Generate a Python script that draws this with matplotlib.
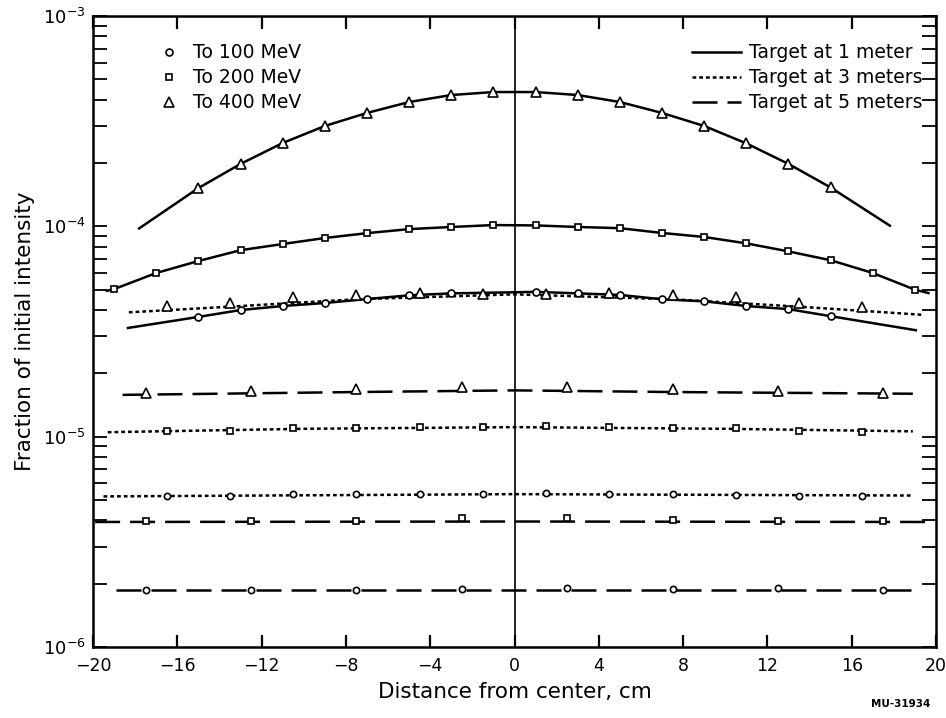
import matplotlib
matplotlib.use("Agg")
import matplotlib.pyplot as plt
from matplotlib.lines import Line2D
from matplotlib.ticker import FixedLocator, LogLocator, NullFormatter

# marker positions
x_1m_400 = [-15, -13, -11, -9, -7, -5, -3, -1, 1, 3, 5, 7, 9, 11, 13, 15]
y_1m_400 = [1.52e-4, 1.98e-4, 2.49e-4, 3.0e-4, 3.46e-4, 3.9e-4, 4.21e-4, 4.35e-4,
            4.35e-4, 4.21e-4, 3.9e-4, 3.46e-4, 3.0e-4, 2.48e-4, 1.98e-4, 1.53e-4]

x_1m_200 = [-19, -17, -15, -13, -11, -9, -7, -5, -3, -1, 1, 3, 5, 7, 9, 11, 13, 15, 17, 19]
y_1m_200 = [5.03e-5, 6.0e-5, 6.84e-5, 7.7e-5, 8.24e-5, 8.8e-5, 9.28e-5, 9.7e-5, 9.93e-5, 1.014e-4,
            1.01e-4, 9.93e-5, 9.8e-5, 9.3e-5, 8.9e-5, 8.3e-5, 7.6e-5, 6.9e-5, 6.0e-5, 5.0e-5]

x_1m_100 = [-15, -13, -11, -9, -7, -5, -3, 1, 3, 5, 7, 9, 11, 13, 15]
y_1m_100 = [3.71e-5, 4.0e-5, 4.18e-5, 4.32e-5, 4.51e-5, 4.7e-5, 4.8e-5, 4.88e-5,
            4.8e-5, 4.72e-5, 4.5e-5, 4.4e-5, 4.18e-5, 4.04e-5, 3.74e-5]

x_3m = [-16.5, -13.5, -10.5, -7.5, -4.5, -1.5, 1.5, 4.5, 7.5, 10.5, 13.5, 16.5]
y_3m_400 = [4.18e-5, 4.3e-5, 4.6e-5, 4.7e-5, 4.8e-5, 4.77e-5, 4.77e-5, 4.8e-5, 4.7e-5, 4.6e-5, 4.3e-5, 4.14e-5]
y_3m_200 = [1.06e-5, 1.06e-5, 1.1e-5, 1.1e-5, 1.11e-5, 1.11e-5, 1.12e-5, 1.11e-5, 1.1e-5, 1.1e-5, 1.06e-5, 1.05e-5]
y_3m_100 = [5.2e-6, 5.25e-6, 5.33e-6, 5.33e-6, 5.33e-6, 5.33e-6, 5.37e-6, 5.33e-6, 5.33e-6, 5.3e-6, 5.25e-6, 5.2e-6]

x_5m = [-17.5, -12.5, -7.5, -2.5, 2.5, 7.5, 12.5, 17.5]
y_5m_400 = [1.61e-5, 1.65e-5, 1.68e-5, 1.72e-5, 1.73e-5, 1.68e-5, 1.65e-5, 1.61e-5]
y_5m_200 = [3.96e-6, 3.96e-6, 3.98e-6, 4.1e-6, 4.1e-6, 4.0e-6, 3.96e-6, 3.96e-6]
y_5m_100 = [1.86e-6, 1.87e-6, 1.87e-6, 1.88e-6, 1.9e-6, 1.88e-6, 1.9e-6, 1.86e-6]

# curve ends for the 1 m lines (they pass through the markers)
ends_1m_400 = ([-17.86, 17.86], [9.7e-5, 1.0e-4])
ends_1m_200 = ([-19.4, 19.7], [4.92e-5, 4.8e-5])
ends_1m_100 = ([-18.4, 19.1], [3.28e-5, 3.2e-5])

# 3 m and 5 m lines
lx_3m_400 = [-18.3, -13.5, -7.5, 0, 7.5, 13.5, 19.3]
ly_3m_400 = [3.9e-5, 4.15e-5, 4.5e-5, 4.75e-5, 4.5e-5, 4.15e-5, 3.8e-5]
lx_3m_200 = [-19.3, -10, 0, 10, 18.9]
ly_3m_200 = [1.05e-5, 1.09e-5, 1.11e-5, 1.09e-5, 1.06e-5]
lx_3m_100 = [-19.5, 0, 18.9]
ly_3m_100 = [5.2e-6, 5.33e-6, 5.25e-6]
lx_5m_400 = [-18.6, -7.5, 0, 7.5, 18.9]
ly_5m_400 = [1.58e-5, 1.63e-5, 1.66e-5, 1.63e-5, 1.6e-5]
lx_5m_200 = [-19.9, 0, 19.5]
ly_5m_200 = [3.93e-6, 3.95e-6, 3.93e-6]
lx_5m_100 = [-18.9, 18.9]
ly_5m_100 = [1.87e-6, 1.87e-6]

x_ticks = [-20, -16, -12, -8, -4, 0, 4, 8, 12, 16, 20]
x_ticklabels = ["\u221220", "\u221216", "\u221212", "\u22128", "\u22124", "0", "4", "8", "12", "16", "20"]

plt.rcParams['font.family'] = ['DejaVu Sans']

LW = 1.8
DOT = (1.5, 1.2)
DASH = (10, 4)


def with_ends(xs, ys, ends):
    return [ends[0][0]] + xs + [ends[0][1]], [ends[1][0]] + ys + [ends[1][1]]


def markers(ax, x, y, m, ms):
    ax.plot(x, y, linestyle='none', marker=m, ms=ms, mfc='white', mec='black', mew=1.2, zorder=4)


fig = plt.figure(figsize=(9.46, 7.18), dpi=100)
ax = fig.add_axes([93 / 946, 71 / 718, 843 / 946, 631 / 718])
ax.set_yscale('log')
ax.set_xlim(-20, 20)
ax.set_ylim(1e-6, 1e-3)

# center line
ax.axvline(0, color='black', lw=1.2, zorder=1)

# 1 meter (solid)
for xs, ys, ends in [(x_1m_400, y_1m_400, ends_1m_400),
                     (x_1m_200, y_1m_200, ends_1m_200),
                     (x_1m_100, y_1m_100, ends_1m_100)]:
    lx, ly = with_ends(xs, ys, ends)
    ax.plot(lx, ly, color='black', lw=LW, solid_capstyle='butt', zorder=2)

# 3 meters (dotted)
for lx, ly in [(lx_3m_400, ly_3m_400), (lx_3m_200, ly_3m_200), (lx_3m_100, ly_3m_100)]:
    ax.plot(lx, ly, color='black', lw=LW, dashes=DOT, zorder=2)

# 5 meters (long dash)
for lx, ly in [(lx_5m_400, ly_5m_400), (lx_5m_200, ly_5m_200), (lx_5m_100, ly_5m_100)]:
    ax.plot(lx, ly, color='black', lw=LW, dashes=DASH, zorder=2)

markers(ax, x_1m_400, y_1m_400, '^', 7.5)
markers(ax, x_1m_200, y_1m_200, 's', 5)
markers(ax, x_1m_100, y_1m_100, 'o', 5)
markers(ax, x_3m, y_3m_400, '^', 7.5)
markers(ax, x_3m, y_3m_200, 's', 5)
markers(ax, x_3m, y_3m_100, 'o', 4.5)
markers(ax, x_5m, y_5m_400, '^', 7.5)
markers(ax, x_5m, y_5m_200, 's', 5)
markers(ax, x_5m, y_5m_100, 'o', 4.5)

# axes styling
for sp in ax.spines.values():
    sp.set_linewidth(1.8)
ax.xaxis.set_major_locator(FixedLocator(x_ticks))
ax.set_xticklabels(x_ticklabels)
ax.yaxis.set_major_locator(LogLocator(base=10, numticks=10))
ax.yaxis.set_minor_locator(LogLocator(base=10, subs=range(2, 10), numticks=20))
ax.yaxis.set_minor_formatter(NullFormatter())
ax.tick_params(axis='x', which='major', direction='in', length=9, width=1.6,
               top=True, labelsize=12.5, pad=7)
ax.tick_params(axis='y', which='both', direction='in', length=10, width=1.3,
               right=True, labelsize=13, pad=5)

ax.set_xlabel("Distance from center, cm", fontsize=15.5, labelpad=5)
ax.set_ylabel("Fraction of initial intensity", fontsize=15.5, labelpad=6)

# legends
energy_handles = [
    Line2D([], [], linestyle='none', marker='o', ms=5, mfc='white', mec='black', mew=1.2),
    Line2D([], [], linestyle='none', marker='s', ms=5, mfc='white', mec='black', mew=1.2),
    Line2D([], [], linestyle='none', marker='^', ms=7.5, mfc='white', mec='black', mew=1.2),
]
leg1 = ax.legend(energy_handles, ["To 100 MeV", "To 200 MeV", "To 400 MeV"],
                 loc='upper left', bbox_to_anchor=(0.0707, 0.9685), frameon=False,
                 fontsize=13.5, handlelength=1.0, handletextpad=0.75, labelspacing=0.32,
                 borderaxespad=0)
ax.add_artist(leg1)

dist_handles = [
    Line2D([], [], color='black', lw=LW),
    Line2D([], [], color='black', lw=LW, dashes=DOT),
    Line2D([], [], color='black', lw=LW, dashes=DASH),
]
ax.legend(dist_handles, ["Target at 1 meter", "Target at 3 meters", "Target at 5 meters"],
          loc='upper right', bbox_to_anchor=(0.9923, 0.9685), frameon=False,
          fontsize=13.5, handlelength=2.6, handletextpad=0.4, labelspacing=0.32,
          borderaxespad=0)

fig.text(0.983, 0.012, "MU-31934", ha='right', va='bottom', fontsize=7.5, fontweight='bold')

fig.savefig("out.png", dpi=100)
